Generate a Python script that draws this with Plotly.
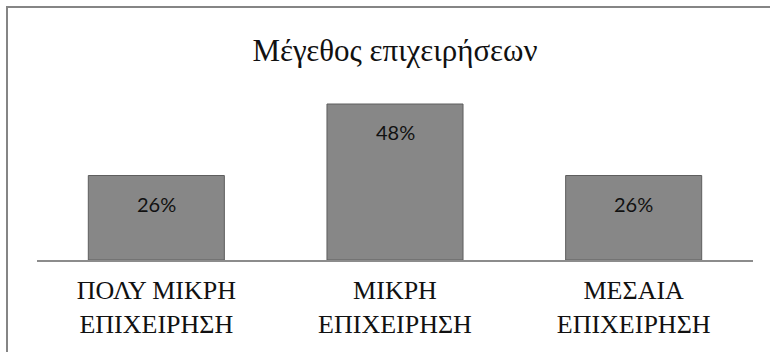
import plotly.graph_objects as go

categories = ["ΠΟΛΥ ΜΙΚΡΗ<br>ΕΠΙΧΕΙΡΗΣΗ", "ΜΙΚΡΗ<br>ΕΠΙΧΕΙΡΗΣΗ", "ΜΕΣΑΙΑ<br>ΕΠΙΧΕΙΡΗΣΗ"]
values = [0.26, 0.48, 0.26]
labels = ["26%", "48%", "26%"]
title_text = "Μέγεθος επιχειρήσεων"

W, H = 770, 352
L, R, T, B = 37, 17, 65, 92
pw, ph = W - L - R, H - T - B

fig = go.Figure()
fig.add_trace(go.Bar(
    x=categories, y=values, width=0.57,
    marker=dict(color="#878787", line=dict(color="#5e5e5e", width=1)),
    hoverinfo="skip",
))

for c, v, t in zip(categories, values, labels):
    fig.add_annotation(x=c, y=v, text=t, showarrow=False, yshift=-28,
                       yanchor="middle", font=dict(family="Lato", size=20, color="#111111"))

def px(xp):
    return (xp - L) / pw

def py(yp):
    return (H - B - yp) / ph

fig.add_shape(type="line", xref="paper", yref="paper",
              x0=px(7), x1=px(7), y0=py(360), y1=py(7),
              line=dict(color="#858585", width=2))
fig.add_shape(type="line", xref="paper", yref="paper",
              x0=px(6), x1=px(775), y0=py(7), y1=py(7),
              line=dict(color="#858585", width=2))

fig.update_layout(
    width=W, height=H,
    margin=dict(l=L, r=R, t=T, b=B),
    paper_bgcolor="white", plot_bgcolor="white",
    showlegend=False,
    title=dict(text=title_text, x=0.5, xref="paper", xanchor="center",
               y=1 - 50 / H, yanchor="middle",
               font=dict(family="Liberation Serif", size=31, color="#111111")),
    xaxis=dict(showgrid=False, showline=True, linecolor="#8c8c8c", linewidth=2,
               ticks="", ticklabelstandoff=6,
               tickfont=dict(family="Liberation Serif", size=26, color="#111111")),
    yaxis=dict(range=[0, 0.6], visible=False, showgrid=False),
    bargap=0.43,
)

fig.write_html("out.html")
